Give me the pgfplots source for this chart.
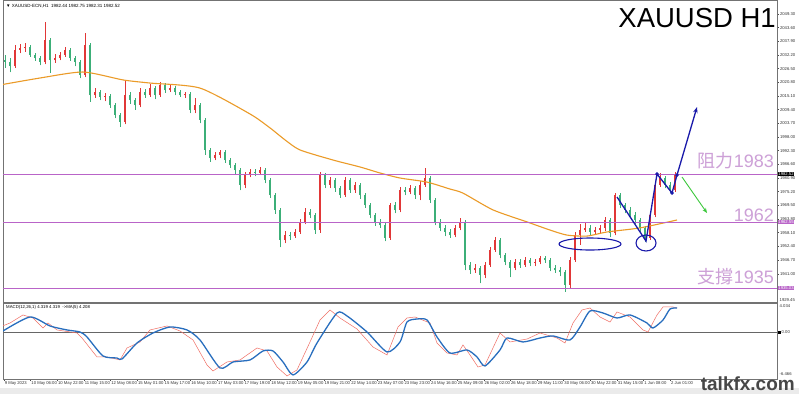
\documentclass[border=0pt]{standalone}
\usepackage{pgfplots}
\pgfplotsset{compat=1.18}
\usepackage{pgfplotstable}
\usepackage{fontspec}
\setmainfont{Liberation Sans}
\newfontfamily\cjk{Noto Sans CJK TC}
\usetikzlibrary{arrows.meta}
\definecolor{upcol}{RGB}{225,55,55}
\definecolor{dncol}{RGB}{60,175,120}
\definecolor{macol}{RGB}{235,155,40}
\definecolor{lvl}{RGB}{185,100,200}
\definecolor{lvltxt}{RGB}{205,160,215}
\definecolor{ann}{RGB}{25,25,170}
\definecolor{macdblue}{RGB}{40,110,190}
\definecolor{macdred}{RGB}{240,110,100}
\definecolor{grn}{RGB}{60,200,60}

% up (red) candles: x open high low close
\pgfplotstableread{
x o h l c
15 2027.6 2036.4 2026.8 2034.3
20 2034.3 2036.8 2033.0 2035.1
25 2035.1 2037.2 2033.5 2035.5
45 2029.3 2046.0 2028.4 2038.5
55 2030.1 2032.6 2028.9 2030.9
60 2030.9 2033.5 2030.1 2032.2
65 2032.2 2035.5 2031.4 2034.3
85 2023.9 2041.4 2023.0 2036.4
95 2015.5 2018.4 2014.3 2016.8
105 2014.7 2016.4 2013.0 2015.1
125 2004.3 2021.8 2003.4 2015.5
140 2011.3 2018.4 2010.5 2016.8
150 2015.5 2020.1 2014.7 2018.4
160 2015.5 2020.9 2014.7 2019.7
170 2017.6 2019.7 2016.8 2018.4
185 2015.5 2016.8 2014.3 2015.9
195 2009.3 2014.3 2008.0 2011.3
215 1989.2 1991.8 1988.4 1990.5
220 1990.5 1992.6 1989.2 1991.8
245 1978.0 1983.4 1976.7 1982.2
250 1982.2 1984.7 1981.3 1983.4
260 1983.0 1985.5 1982.2 1984.2
285 1955.1 1958.8 1953.8 1957.1
295 1956.7 1959.6 1955.9 1958.4
300 1958.4 1963.8 1957.6 1962.6
305 1962.6 1968.4 1961.7 1966.7
320 1959.2 1983.4 1958.0 1982.2
330 1978.0 1981.3 1976.7 1980.1
345 1973.8 1981.3 1973.0 1980.1
355 1975.9 1979.2 1974.7 1978.0
390 1955.9 1970.5 1955.1 1969.6
400 1967.6 1977.2 1966.7 1975.9
410 1975.1 1978.0 1974.2 1976.7
420 1973.8 1979.7 1971.7 1978.0
425 1978.0 1985.1 1977.2 1980.9
455 1957.1 1961.3 1956.3 1960.1
460 1960.1 1964.2 1959.2 1962.6
475 1942.5 1945.0 1941.3 1943.4
485 1940.5 1945.9 1939.2 1944.6
490 1944.6 1952.1 1943.8 1950.9
495 1950.9 1956.3 1950.1 1955.1
515 1943.4 1947.1 1942.5 1945.9
525 1944.6 1948.0 1943.8 1946.7
535 1945.5 1947.1 1944.2 1945.9
540 1945.9 1948.4 1945.0 1947.5
570 1936.3 1948.0 1935.0 1946.7
575 1946.7 1958.4 1945.9 1957.1
580 1957.1 1961.7 1953.0 1959.2
585 1959.2 1962.6 1958.4 1960.1
595 1958.4 1960.5 1957.6 1959.2
600 1959.2 1961.3 1958.0 1960.1
605 1960.1 1964.6 1958.8 1963.4
615 1958.0 1974.7 1957.1 1973.8
650 1955.9 1966.3 1955.1 1965.5
655 1965.5 1978.8 1964.6 1978.0
660 1978.0 1983.0 1977.2 1980.9
675 1975.9 1983.4 1975.1 1982.5
}\uptab

% down (green) candles
\pgfplotstableread{
x o h l c
5 2030.1 2032.2 2026.8 2029.3
10 2029.3 2030.9 2025.1 2027.6
30 2035.5 2036.4 2031.4 2032.2
35 2032.2 2033.0 2029.7 2030.9
40 2030.9 2031.8 2028.0 2029.3
50 2038.5 2039.3 2024.7 2030.1
70 2034.3 2035.1 2029.7 2030.9
75 2030.9 2031.8 2027.6 2029.3
80 2029.3 2030.1 2022.6 2023.9
90 2036.4 2037.2 2012.6 2015.5
100 2016.8 2017.6 2013.4 2014.7
110 2015.1 2015.9 2010.1 2011.3
115 2011.3 2012.2 2005.9 2007.2
120 2007.2 2008.0 2002.2 2004.3
130 2015.5 2016.8 2011.8 2013.4
135 2013.4 2014.3 2009.3 2011.3
145 2016.8 2018.0 2014.3 2015.5
155 2018.4 2019.3 2013.8 2015.5
165 2019.7 2020.5 2016.4 2017.6
175 2018.4 2019.3 2015.5 2016.8
180 2016.8 2017.6 2014.7 2015.5
190 2015.9 2016.8 2008.0 2009.3
200 2011.3 2012.2 2003.8 2005.1
205 2005.1 2005.9 1990.5 1992.6
210 1992.6 1993.4 1987.6 1989.2
225 1991.8 1992.6 1987.2 1988.4
230 1988.4 1989.2 1985.1 1986.3
235 1986.3 1987.2 1982.6 1984.2
240 1984.2 1985.1 1975.9 1978.0
255 1983.4 1984.7 1981.7 1983.0
265 1984.2 1985.1 1978.8 1980.1
270 1980.1 1980.9 1972.6 1973.8
275 1973.8 1974.7 1965.9 1967.6
280 1967.6 1968.4 1952.1 1955.1
290 1957.1 1958.4 1955.1 1956.7
310 1966.7 1968.0 1964.2 1965.5
315 1965.5 1966.3 1957.6 1959.2
325 1982.2 1983.0 1976.7 1978.0
335 1980.1 1980.9 1975.1 1976.7
340 1976.7 1977.6 1972.6 1973.8
350 1980.1 1980.9 1974.7 1975.9
360 1978.0 1978.8 1972.2 1973.8
365 1973.8 1974.7 1968.4 1969.6
370 1969.6 1970.5 1964.2 1965.5
375 1965.5 1966.3 1960.9 1962.6
380 1962.6 1963.8 1960.1 1961.3
385 1961.3 1962.1 1954.6 1955.9
395 1969.6 1970.9 1966.3 1967.6
405 1975.9 1977.2 1973.8 1975.1
415 1976.7 1977.6 1972.2 1973.8
430 1980.9 1981.7 1970.5 1971.7
435 1971.7 1972.6 1961.3 1962.6
440 1962.6 1963.8 1958.8 1960.1
445 1960.1 1961.3 1956.7 1958.4
450 1958.4 1959.6 1955.9 1957.1
465 1962.6 1963.4 1942.5 1944.6
470 1944.6 1945.9 1940.9 1942.5
480 1943.4 1944.2 1937.1 1940.5
500 1955.1 1955.9 1947.5 1948.8
505 1948.8 1949.6 1944.6 1945.9
510 1945.9 1946.7 1939.6 1943.4
520 1945.9 1947.1 1943.4 1944.6
530 1946.7 1947.5 1944.2 1945.5
545 1947.5 1948.4 1945.5 1946.7
550 1946.7 1947.5 1942.1 1943.4
555 1943.4 1944.6 1941.3 1942.5
560 1942.5 1943.8 1940.0 1941.7
565 1941.7 1942.5 1933.4 1936.3
590 1960.1 1961.3 1957.1 1958.4
610 1963.4 1964.2 1956.3 1958.0
620 1973.8 1974.7 1968.4 1969.6
625 1969.6 1970.5 1966.3 1967.6
630 1967.6 1968.8 1964.2 1965.5
635 1965.5 1966.7 1961.7 1963.4
640 1963.4 1964.2 1958.4 1960.1
645 1960.1 1960.9 1954.2 1955.9
665 1980.9 1981.7 1976.7 1978.0
670 1978.0 1979.2 1974.7 1975.9
}\dntab

\pgfplotsset{
  candle/.style 2 args={only marks, mark=*, mark size=0pt,
    mark options={draw=none, fill=none}, forget plot,
    error bars/.cd, y dir=plus, y explicit, error mark=none,
    error bar style={draw=#1, solid, line width=#2}},
}

\begin{document}
\begin{tikzpicture}
\path[use as bounding box] (0pt,0pt) rectangle (799pt,394pt);
\fill[white] (0pt,0pt) rectangle (799pt,394pt);
\fill[black!8] (0pt,0pt) rectangle (799pt,6pt);

% ---------------- main price panel ----------------
\begin{axis}[
  at={(3pt,92pt)}, anchor=south west, scale only axis,
  width=774pt, height=302pt,
  xmin=3, xmax=777, ymin=1929.2, ymax=2055.13,
  xtick=\empty,
  ytick={2049.3,2043.6,2037.9,2032.2,2026.5,2020.8,2015.1,2009.4,2003.7,1998.0,1992.3,1986.6,1980.9,1975.2,1969.5,1963.8,1958.1,1952.4,1946.7,1941.0},
  yticklabels={2049.30,2043.60,2037.90,2032.20,2026.50,2020.80,2015.10,2009.40,2003.70,1998.00,1992.30,1986.60,1980.90,1975.20,1969.50,1963.80,1958.10,1952.40,1946.70,1941.00},
  ytick pos=right, tick align=outside, major tick length=2pt,
  tick style={black!70, line width=0.4pt},
  yticklabel style={font=\fontsize{4.2}{5}\selectfont, anchor=west, inner sep=0.8pt, text=black!80},
  axis line style={black!55, line width=0.6pt},
  clip=true,
]
% wicks
\addplot[candle={dncol}{0.55pt}] table[x=x, y=l, y error expr=\thisrow{h}-\thisrow{l}] {\dntab};
\addplot[candle={upcol}{0.55pt}] table[x=x, y=l, y error expr=\thisrow{h}-\thisrow{l}] {\uptab};
% bodies
\addplot[candle={dncol}{2.2pt}] table[x=x, y=c, y error expr=\thisrow{o}-\thisrow{c}] {\dntab};
\addplot[candle={upcol}{2.2pt}] table[x=x, y=o, y error expr=\thisrow{c}-\thisrow{o}] {\uptab};

% moving average
\addplot[macol, line width=1.1pt, smooth, tension=0.4] coordinates {
(0,2019.7) (40,2022.6) (83,2025.1) (123,2021.8) (150,2020.5) (200,2018.4)
(250,2007.6) (270,2001.8) (285,1996.8) (300,1992.6) (333,1988.4) (360,1985.5)
(380,1983.0) (400,1980.9) (427,1979.2) (450,1976.3) (463,1974.6) (493,1967.6)
(527,1962.6) (550,1959.2) (567,1957.1) (587,1956.7) (607,1958.4) (640,1960.1) (677,1963.4)};

% support / resistance levels
\addplot[lvl, line width=1pt] coordinates {(3,1982.57) (777,1982.57)};
\addplot[lvl, line width=1pt] coordinates {(3,1962.55) (777,1962.55)};
\addplot[lvl, line width=1pt] coordinates {(3,1935.03) (777,1935.03)};

% annotations
\draw[ann, line width=1.1pt] (axis cs:590,1953.38) ellipse [x radius=31pt, y radius=6pt];
\draw[ann, line width=1.1pt] (axis cs:646,1953.80) ellipse [x radius=10pt, y radius=8pt];
\addplot[ann, line width=1.3pt] coordinates {(617,1972.98) (646,1954.63) (657,1982.57) (672,1974.65) (677,1982.15)};
\addplot[ann, line width=1.3pt, -{Stealth[length=6pt,width=4.5pt]}] coordinates {(677,1982.15) (697,2010.51)};
\addplot[ann, only marks, mark=*, mark size=1.5pt] coordinates {(657,1982.57) (672,1974.65) (677,1982.15)};
\addplot[grn, line width=0.9pt, -{Stealth[length=5pt,width=4pt]}] coordinates {(682,1981.32) (707,1966.31)};
\end{axis}

% ---------------- MACD panel ----------------
\begin{axis}[
  at={(3pt,15pt)}, anchor=south west, scale only axis,
  width=774pt, height=76pt,
  xmin=3, xmax=777, ymin=-6.49, ymax=4.0,
  ytick=\empty,
  xtick={4.0,30.65,57.3,83.95,110.6,137.25,163.9,190.55,217.2,243.85,270.5,297.15,323.8,350.45,377.1,403.75,430.4,457.05,483.7,510.35,537.0,563.65,590.3,616.95,643.6,670.25},
  xticklabels={9 May 2023,10 May 06:00,10 May 22:00,11 May 15:00,12 May 08:00,15 May 01:00,15 May 17:00,16 May 10:00,17 May 03:00,17 May 19:00,18 May 12:00,19 May 05:00,19 May 21:00,22 May 14:00,23 May 07:00,23 May 23:00,24 May 16:00,25 May 09:00,26 May 02:00,26 May 18:00,29 May 11:00,30 May 06:00,30 May 22:00,31 May 15:00,1 Jun 08:00,2 Jun 01:00},
  xtick pos=bottom, tick align=outside, major tick length=2pt,
  tick style={black!70, line width=0.4pt},
  xticklabel style={font=\fontsize{4.2}{5}\selectfont, anchor=north west, inner sep=0.6pt, text=black!80},
  axis line style={black!55, line width=0.6pt},
  clip=true,
]
\addplot[black!60, line width=0.6pt] coordinates {(3,0) (777,0)};
\addplot[macdred, line width=0.5pt] coordinates {
(0,0.69) (10,1.24) (23,2.35) (33,1.93) (43,0.55) (48,1.24) (57,0.28) (77,-0.14) (82,-0.83)
(97,-3.45) (107,-3.45) (120,-3.86) (127,-2.21) (140,-1.38) (150,0.28) (167,0.83) (180,0.14)
(193,-1.10) (207,-4.55) (213,-5.38) (227,-4.14) (240,-3.86) (257,-2.21) (267,-2.62) (277,-4.83)
(287,-6.07) (297,-5.24) (310,-1.38) (320,1.66) (330,3.04) (340,1.93) (357,0.41) (373,-2.07)
(387,-3.17) (398,0.69) (407,1.93) (415,2.07) (430,1.24) (437,-1.52) (447,-2.90) (457,-3.17)
(463,-1.79) (470,-3.17) (478,-4.83) (485,-4.55) (500,-0.14) (510,-1.38) (527,-0.97) (540,-0.14)
(557,-0.83) (565,-1.52) (573,1.24) (582,3.04) (590,3.31) (600,2.07) (610,1.38) (617,2.76)
(630,2.07) (643,0.28) (648,0.0) (657,2.35) (663,3.45) (673,3.45) (677,3.31)};
\addplot[macdblue, line width=1.3pt, smooth, tension=0.4] coordinates {
(3,0.14) (30,2.07) (50,0.83) (67,0.28) (80,0.0) (87,-0.69) (103,-3.31) (117,-3.59) (122,-3.73)
(137,-1.52) (153,-0.14) (170,0.69) (187,0.28) (200,-1.10) (220,-4.97) (233,-4.14) (250,-3.86)
(263,-2.62) (273,-2.62) (283,-4.14) (293,-5.93) (307,-4.14) (317,-1.52) (337,2.62) (347,2.21)
(367,0.0) (387,-2.76) (400,-1.38) (407,1.38) (417,1.79) (427,1.66) (437,-0.69) (450,-2.90)
(467,-2.48) (477,-3.45) (485,-4.69) (500,-2.48) (507,-0.83) (523,-1.38) (540,-0.83) (553,-0.55)
(570,-1.10) (580,0.69) (590,2.90) (603,2.62) (617,1.93) (630,2.35) (647,1.24) (653,0.55)
(663,1.66) (670,3.17) (677,3.31)};
\end{axis}

% ---------------- texts ----------------
\node[anchor=west, inner sep=0, font=\fontsize{4.5}{5}\selectfont] at (6pt,388pt) {▼ XAUUSD-ECN,H1\ \ 1982.44 1982.75 1982.31 1982.52};
\node[anchor=west, inner sep=0, font=\fontsize{4.3}{5}\selectfont] at (6pt,87pt) {MACD(12,26,1) 4.319 4.319 \ ->MA(5) 4.208};
\node[anchor=base east, inner sep=0, font=\fontsize{27.5}{30}\selectfont] at (776pt,366pt) {XAUUSD H1};

\node[anchor=base east, inner sep=0, text=lvltxt, font=\fontsize{18}{20}\selectfont] at (774pt,226pt) {{\cjk 阻力}1983};
\node[anchor=base east, inner sep=0, text=lvltxt, font=\fontsize{18}{20}\selectfont] at (774pt,173pt) {1962};
\node[anchor=base east, inner sep=0, text=lvltxt, font=\fontsize{18}{20}\selectfont] at (774pt,111pt) {{\cjk 支撐}1935};

% price axis highlight boxes
\node[anchor=west, fill=black, text=white, inner sep=0.7pt, font=\fontsize{4.2}{5}\selectfont] at (777.5pt,220pt) {1982.52};
\node[anchor=west, fill=lvl, text=white, inner sep=0.7pt, font=\fontsize{4.2}{5}\selectfont] at (777.5pt,172pt) {1962.55};
\node[anchor=west, fill=lvl, text=white, inner sep=0.7pt, font=\fontsize{4.2}{5}\selectfont] at (777.5pt,106pt) {1935.03};

% MACD side labels
\node[anchor=west, inner sep=0.5pt, font=\fontsize{4.2}{5}\selectfont, text=black!80] at (779pt,94pt) {1929.45};
\node[anchor=west, inner sep=0.5pt, font=\fontsize{4.2}{5}\selectfont, text=black!80] at (779pt,88pt) {4.034};
\fill[black] (777.5pt,60.5pt) rectangle (780.5pt,63.5pt);
\node[anchor=west, inner sep=0.5pt, font=\fontsize{4.2}{5}\selectfont, text=black!80] at (781pt,62pt) {0.00};
\node[anchor=west, inner sep=0.5pt, font=\fontsize{4.2}{5}\selectfont, text=black!80] at (779pt,20pt) {-6.466};

% watermark
\node[anchor=base east, inner sep=0, text=black!72, font=\bfseries\fontsize{19}{20}\selectfont] at (795pt,4pt) {talkfx.com};
\end{tikzpicture}
\end{document}
